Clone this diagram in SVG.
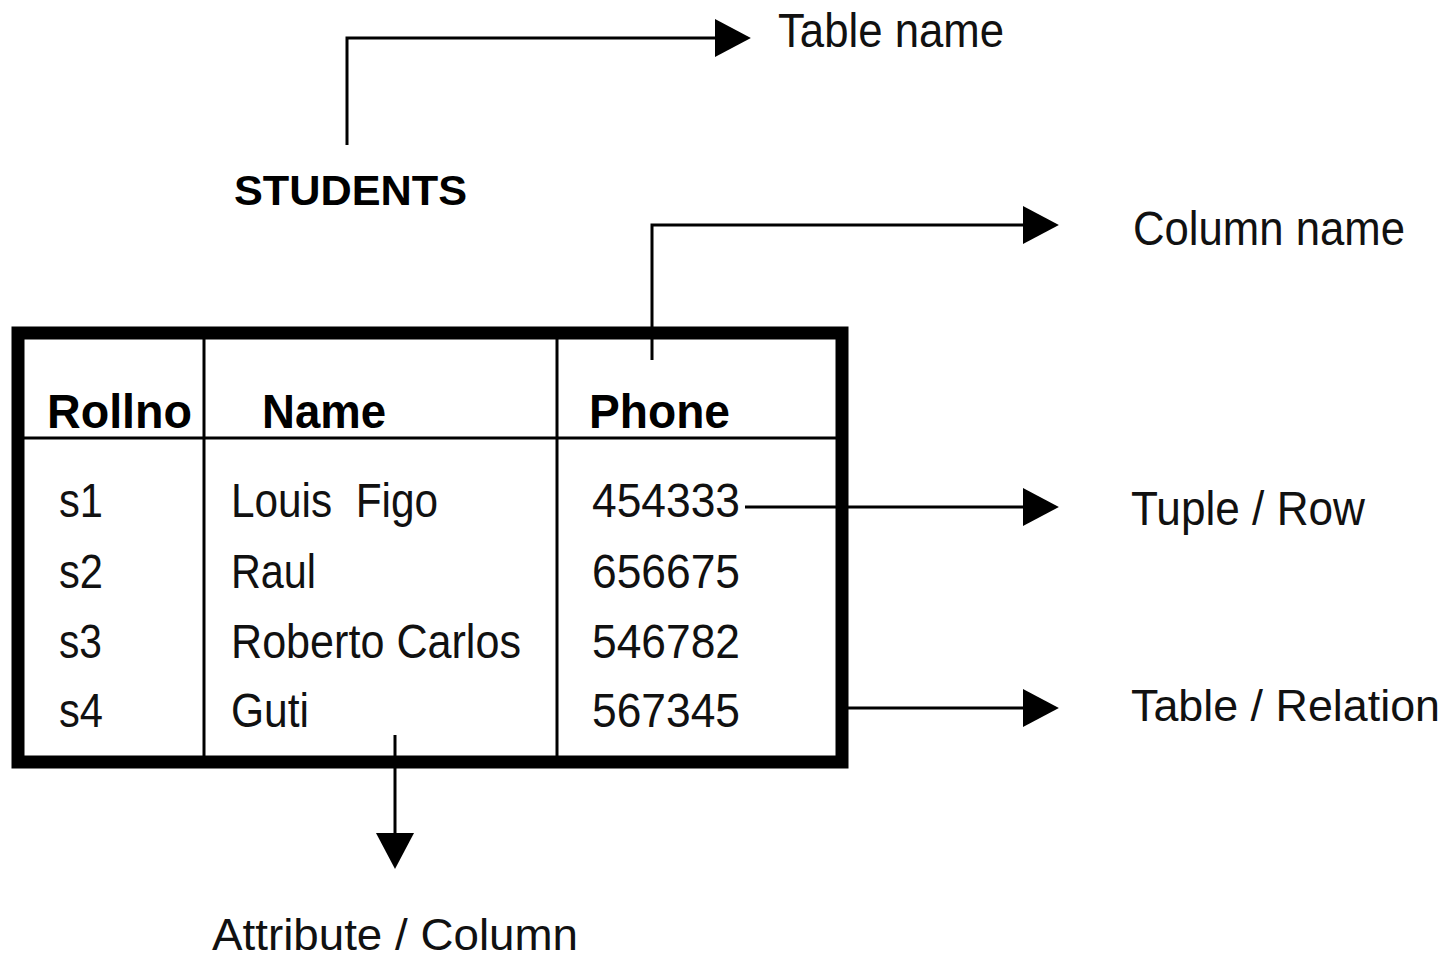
<svg xmlns="http://www.w3.org/2000/svg" width="1455" height="960" viewBox="0 0 1455 960">
  <style>
    .bg { fill: #ffffff; }
    .frame { fill: none; stroke: #000; stroke-width: 13; }
    .grid { stroke: #000; stroke-width: 3; fill: none; }
    .conn { stroke: #000; stroke-width: 3; fill: none; marker-end: url(#head); }
    .lbl { font-family: "Liberation Sans", Arial, sans-serif; font-size: 48px; fill: #111; }
    .lbl-s { font-family: "Liberation Sans", Arial, sans-serif; font-size: 44px; fill: #111; }
    .hdr { font-family: "Liberation Sans", Arial, sans-serif; font-size: 48px; font-weight: bold; fill: #000; }
    .cell { font-family: "Liberation Sans", Arial, sans-serif; font-size: 48px; fill: #111; white-space: pre; }
    .title { font-family: "Liberation Sans", Arial, sans-serif; font-size: 43px; font-weight: bold; fill: #000; }
  </style>
  <defs>
    <marker id="head" markerUnits="userSpaceOnUse" markerWidth="36" markerHeight="38" viewBox="0 0 34 36" refX="0" refY="18" orient="auto">
      <path d="M0,0 L34,18 L0,36 Z" fill="#000"/>
    </marker>
  </defs>

  <rect class="bg" x="0" y="0" width="1455" height="960"/>

  <!-- table title -->
  <g id="node-students">
    <text class="title" x="234" y="205" textLength="233" lengthAdjust="spacingAndGlyphs">STUDENTS</text>
  </g>

  <!-- the relation itself -->
  <g id="node-table">
    <rect class="frame" x="18" y="333" width="824" height="429"/>
    <line class="grid" x1="24" y1="438" x2="836" y2="438"/>
    <line class="grid" x1="204" y1="339" x2="204" y2="756"/>
    <line class="grid" x1="557" y1="339" x2="557" y2="756"/>

    <text class="hdr" x="47" y="428" textLength="145" lengthAdjust="spacingAndGlyphs">Rollno</text>
    <text class="hdr" x="262" y="428" textLength="124" lengthAdjust="spacingAndGlyphs">Name</text>
    <text class="hdr" x="589" y="428" textLength="141" lengthAdjust="spacingAndGlyphs">Phone</text>

    <text class="cell" x="59" y="517" textLength="44" lengthAdjust="spacingAndGlyphs">s1</text>
    <text class="cell" x="231" y="517" textLength="207" lengthAdjust="spacingAndGlyphs">Louis  Figo</text>
    <text class="cell" x="592" y="517" textLength="148" lengthAdjust="spacingAndGlyphs">454333</text>

    <text class="cell" x="59" y="588" textLength="44" lengthAdjust="spacingAndGlyphs">s2</text>
    <text class="cell" x="231" y="588" textLength="85" lengthAdjust="spacingAndGlyphs">Raul</text>
    <text class="cell" x="592" y="588" textLength="148" lengthAdjust="spacingAndGlyphs">656675</text>

    <text class="cell" x="59" y="658" textLength="43" lengthAdjust="spacingAndGlyphs">s3</text>
    <text class="cell" x="231" y="658" textLength="290" lengthAdjust="spacingAndGlyphs">Roberto Carlos</text>
    <text class="cell" x="592" y="658" textLength="148" lengthAdjust="spacingAndGlyphs">546782</text>

    <text class="cell" x="59" y="727" textLength="44" lengthAdjust="spacingAndGlyphs">s4</text>
    <text class="cell" x="231" y="727" textLength="78" lengthAdjust="spacingAndGlyphs">Guti</text>
    <text class="cell" x="592" y="727" textLength="148" lengthAdjust="spacingAndGlyphs">567345</text>
  </g>

  <!-- explanatory labels -->
  <g id="node-table-name">
    <text class="lbl" x="778" y="47" textLength="226" lengthAdjust="spacingAndGlyphs">Table name</text>
  </g>
  <g id="node-column-name">
    <text class="lbl" x="1133" y="245" textLength="272" lengthAdjust="spacingAndGlyphs">Column name</text>
  </g>
  <g id="node-tuple">
    <text class="lbl" x="1131" y="525" textLength="234" lengthAdjust="spacingAndGlyphs">Tuple / Row</text>
  </g>
  <g id="node-relation">
    <text class="lbl-s" x="1131" y="721" textLength="309" lengthAdjust="spacingAndGlyphs">Table / Relation</text>
  </g>
  <g id="node-attribute">
    <text class="lbl-s" x="212" y="950" textLength="366" lengthAdjust="spacingAndGlyphs">Attribute / Column</text>
  </g>

  <!-- pointers from the table to the labels -->
  <g id="connectors">
    <polyline class="conn" points="347,145 347,38 715,38"/>
    <polyline class="conn" points="652,360 652,225 1023,225"/>
    <line class="conn" x1="745" y1="507" x2="1023" y2="507"/>
    <line class="conn" x1="848" y1="708" x2="1023" y2="708"/>
    <line class="conn" x1="395" y1="735" x2="395" y2="833"/>
  </g>
</svg>
